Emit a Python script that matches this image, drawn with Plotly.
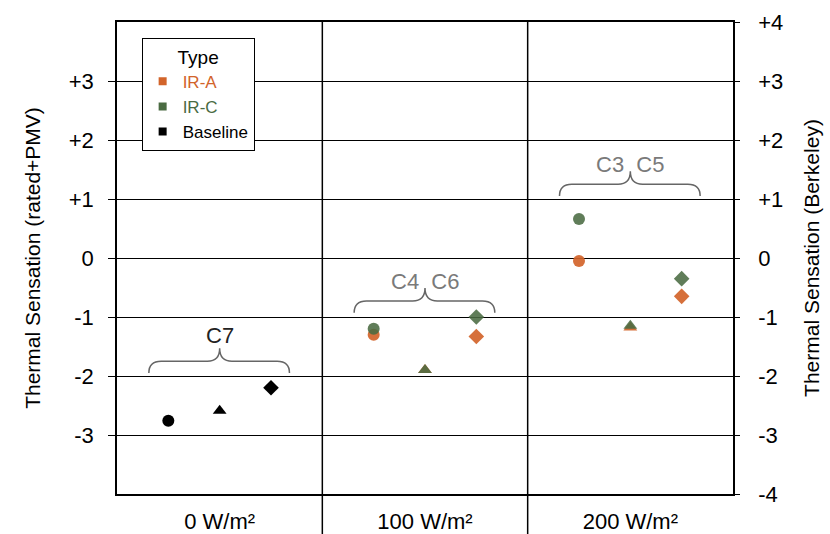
import plotly.graph_objects as go

# Irradiance levels along the x axis
categories = ["0 W/m²", "100 W/m²", "200 W/m²"]
cat_index = [0, 1, 2]

# Measures within each irradiance level: rated, PMV, Berkeley model
measures = ["rated", "PMV", "Berkeley"]
measure_offset = [-0.25, 0.0, 0.25]
measure_symbol = ["circle", "triangle-up", "diamond"]

# Thermal sensation values per type (category index, values per measure)
baseline_cat = [0, 0, 0]
baseline_vals = [-2.76, -2.59, -2.20]

ir_a_cat = [1, 1, 1, 2, 2, 2]
ir_a_vals = [-1.30, -1.90, -1.33, -0.05, -1.18, -0.65]

ir_c_cat = [1, 1, 1, 2, 2, 2]
ir_c_vals = [-1.20, -1.90, -1.00, 0.66, -1.15, -0.35]

# Condition groups marked with braces: label, category index
group_labels = ["C7", "C4  C6", "C3  C5"]
group_cat = [0, 1, 2]
group_level = [-1.95, -0.93, 1.05]

left_ticks = [3, 2, 1, 0, -1, -2, -3]
right_ticks = [4, 3, 2, 1, 0, -1, -2, -3, -4]


def fmt(v):
    return f"+{v}" if v > 0 else str(v)


COLORS = {"IR-A": "#d2642a", "IR-C": "#4a6b42", "Baseline": "#000000"}
FONT = "Liberation Sans, Arial"

fig = go.Figure()


def add_series(name, cats, vals, opacity):
    n = len(measures)
    xs = [c + measure_offset[i % n] for i, c in enumerate(cats)]
    syms = [measure_symbol[i % n] for i in range(len(cats))]
    fig.add_trace(go.Scatter(
        x=xs, y=vals, mode="markers", name=name, showlegend=False,
        marker=dict(color=COLORS[name], symbol=syms, size=12, opacity=opacity,
                    line=dict(width=0)),
        hovertext=[measures[i % n] for i in range(len(cats))],
    ))


add_series("IR-A", ir_a_cat, ir_a_vals, 0.92)
add_series("IR-C", ir_c_cat, ir_c_vals, 0.88)
add_series("Baseline", baseline_cat, baseline_vals, 1.0)

# Legend entries with square swatches
for name in ["IR-A", "IR-C", "Baseline"]:
    fig.add_trace(go.Scatter(
        x=[None], y=[None], mode="markers",
        name=f"<span style='color:{COLORS[name]}'>{name}</span>",
        marker=dict(color=COLORS[name], symbol="square", size=8),
    ))

# Curly braces above each condition group
for label, c, lvl in zip(group_labels, group_cat, group_level):
    x0, x1, xm = c - 0.345, c + 0.34, c
    h = 0.2   # rise from ends to the horizontal part
    tip = 0.42
    r = 0.06
    path = (
        f"M {x0},{lvl} "
        f"Q {x0},{lvl + h} {x0 + r},{lvl + h} "
        f"L {xm - r},{lvl + h} "
        f"Q {xm},{lvl + h} {xm},{lvl + tip} "
        f"Q {xm},{lvl + h} {xm + r},{lvl + h} "
        f"L {x1 - r},{lvl + h} "
        f"Q {x1},{lvl + h} {x1},{lvl} "
    )
    fig.add_shape(type="path", path=path, xref="x", yref="y",
                  line=dict(color="#666666", width=1.5))
    above = 0.64 if c == 0 else 0.53
    fig.add_annotation(x=xm, y=lvl + above, xref="x", yref="y", text=label,
                       showarrow=False,
                       font=dict(size=22, color="#222222" if c == 0 else "#7a7a7a",
                                 family=FONT))

# Panel dividers extending down through the category labels
for b in [0.5, 1.5]:
    fig.add_shape(type="line", x0=b, x1=b, y0=-0.1, y1=1, xref="x", yref="paper",
                  line=dict(color="black", width=1.5))

fig.update_layout(
    width=830, height=534,
    margin=dict(l=117, r=97, t=22, b=40),
    paper_bgcolor="white", plot_bgcolor="white",
    font=dict(family=FONT, size=18, color="black"),
    legend=dict(
        title=dict(text="Type", font=dict(size=19, color="black"), side="top center"),
        x=0.04, y=0.966, xanchor="left", yanchor="top",
        bgcolor="white", bordercolor="black", borderwidth=1,
        font=dict(size=17), itemwidth=30, tracegroupgap=0,
    ),
    xaxis=dict(
        range=[-0.5, 2.5], tickvals=cat_index, ticktext=categories,
        showgrid=False, zeroline=False, showline=True, linecolor="black",
        linewidth=1.5, mirror=True, ticks="", tickfont=dict(size=22),
        ticklabelstandoff=7, automargin=False,
    ),
    yaxis=dict(
        range=[-4, 4], tickvals=left_ticks, ticktext=[fmt(v) for v in left_ticks],
        showgrid=True, gridcolor="black", gridwidth=1, zeroline=False,
        showline=True, linecolor="black", linewidth=1.5,
        ticks="outside", ticklen=7, tickcolor="black",
        tickfont=dict(size=22), ticklabelstandoff=10, automargin=False,
        title=dict(text="Thermal Sensation (rated+PMV)", font=dict(size=21), standoff=22),
    ),
    yaxis2=dict(
        range=[-4, 4], overlaying="y", side="right",
        tickvals=right_ticks, ticktext=[fmt(v) for v in right_ticks],
        showgrid=False, zeroline=False, showline=True, linecolor="black",
        linewidth=1.5, ticks="outside", ticklen=5, tickcolor="black",
        tickfont=dict(size=22), ticklabelstandoff=14, automargin=False,
        title=dict(text="Thermal Sensation (Berkeley)", font=dict(size=21), standoff=22),
    ),
)

# Invisible trace to activate the right axis
fig.add_trace(go.Scatter(x=[None], y=[None], yaxis="y2", showlegend=False))

fig.write_html("out.html")
